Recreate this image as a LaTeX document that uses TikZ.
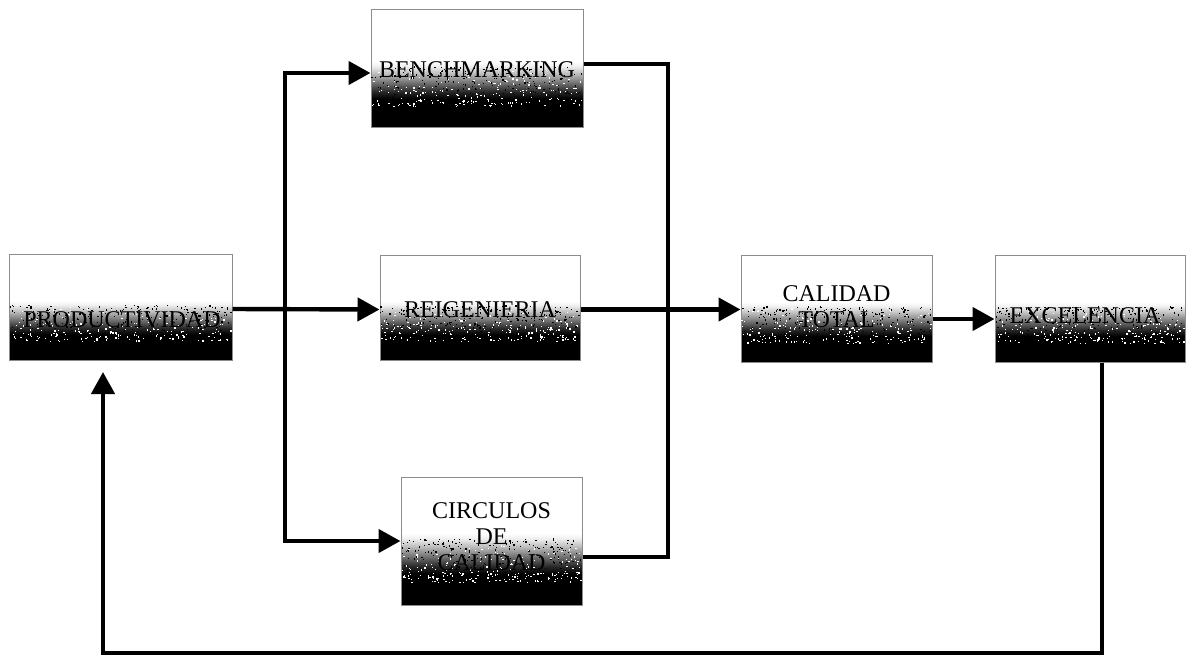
\documentclass[tikz,border=0pt]{standalone}
\usepackage{fontspec}
\setmainfont{Liberation Serif}
\usetikzlibrary{arrows.meta,calc}

% white upper half fading into a solid black foot
\pgfdeclareverticalshading{boxfade}{100bp}{color(0bp)=(black); color(37bp)=(black); color(40bp)=(black!85); color(44bp)=(black!55); color(48bp)=(black!25); color(51bp)=(black!6); color(53bp)=(white); color(100bp)=(white)}

% scattered specks over the fading band of a box: x1 y1 x2 y2 (top left, bottom right)
\newcommand{\grainband}[4]{%
  \foreach \k in {1,...,420}{%
    \pgfmathsetmacro{\gx}{#1+rnd*(#3-#1-1.5)}%
    \pgfmathsetmacro{\gf}{rnd}%
    \pgfmathsetmacro{\gy}{#2+(#4-#2)*(0.48+0.34*\gf)}%
    \pgfmathtruncatemacro{\gc}{rnd<\gf ? 100 : 0}%
    \fill[white!\gc!black] (\gx,\gy) rectangle ++(1.3,1.3);
  }%
}

\tikzset{
  box/.style={draw=black!45, line width=0.5pt, shading=boxfade, inner sep=0pt},
  lbl/.style={font=\fontsize{12}{13}\selectfont, align=center, inner sep=0pt},
  conn/.style={line width=2.2pt, line join=miter},
  arr/.style={conn, -{Triangle[length=11pt,width=11.5pt]}}
}

\begin{document}
\begin{tikzpicture}[x=0.5pt,y=-0.5pt]
\useasboundingbox (0,0) rectangle (1186,658);
\pgfmathsetseed{4217}

% boxes
\node[box, minimum width=106pt,   minimum height=58.5pt] (bench) at (477,68.5) {};
\node[box, minimum width=111.5pt, minimum height=53pt]   (prod)  at (120.5,307) {};
\node[box, minimum width=100pt,   minimum height=52.5pt] (reig)  at (480,307.5) {};
\node[box, minimum width=90.5pt,  minimum height=64pt]   (circ)  at (491.5,541) {};
\node[box, minimum width=95.5pt,  minimum height=53.5pt] (calt)  at (836.5,308.5) {};
\node[box, minimum width=95pt,    minimum height=53.5pt] (exc)   at (1090,308.5) {};

% grain over the fading bands
\grainband{371}{10}{583}{127}
\grainband{9}{254}{232}{360}
\grainband{380}{255}{580}{360}
\grainband{401}{477}{582}{605}
\grainband{741}{255}{932}{362}
\grainband{995}{255}{1185}{362}

% labels
\node[lbl] (bench-t) at (477,70)  {BENCHMARKING};
\node[lbl] (prod-t)  at (122,320) {PRODUCTIVIDAD};
\node[lbl] (reig-t)  at (480,310) {REIGENIERIA};
\node[lbl] (circ-t)  at (491.5,537) {CIRCULOS\\DE\\CALIDAD};
\node[lbl] (calt-t)  at (836.5,307) {CALIDAD\\TOTAL};
\node[lbl] (exc-t)   at (1085,316) {EXCELENCIA};

% connectors
\coordinate (split) at (285,309);
\coordinate (rjoin) at (668,309);
\coordinate (fbR) at (1102,653);
\coordinate (fbL) at (103,653);
\coordinate (fbTip) at (103,372);

\draw[arr] ([yshift=-1pt]prod.east) -- ([yshift=-1pt]reig.west);
\draw[arr] (split) |- ([yshift=-2.25pt]bench.west);
\draw[arr] (split) |- (circ.west);
\draw[conn] ([yshift=2.25pt]bench.east) -| (rjoin) |- ([yshift=-8pt]circ.east);
\draw[arr] ([yshift=-1pt]reig.east) -- ([yshift=-1pt]reig.east -| calt.west);
\draw[arr] ([yshift=-5.25pt]calt.east) -- ([yshift=-5.25pt]calt.east -| exc.west);
\draw[arr] (exc.south -| fbR) -- (fbR) -- (fbL) -- (fbTip);
\end{tikzpicture}
\end{document}
